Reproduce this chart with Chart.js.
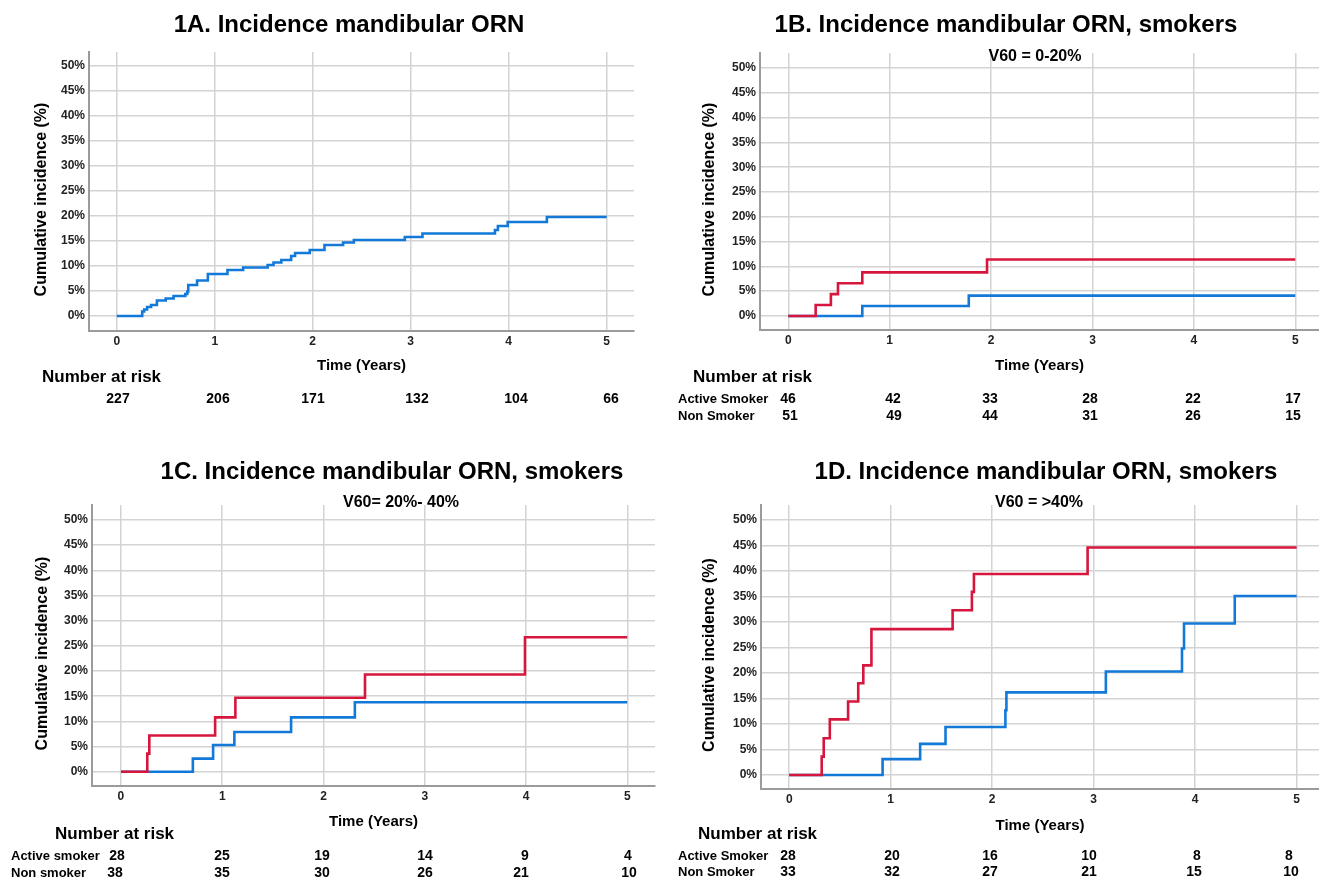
<!DOCTYPE html>
<html>
<head>
<meta charset="utf-8">
<script src="https://cdn.jsdelivr.net/npm/chart.js@4.4.1/dist/chart.umd.min.js"></script>
<style>
  html, body { margin: 0; padding: 0; background: #fff; }
  #wrap { position: relative; width: 1319px; height: 880px; overflow: hidden; }
  canvas { position: absolute; }
</style>
</head>
<body>
<div id="wrap">
  <canvas id="chart-a" width="660" height="440" style="left:0;top:0"></canvas>
  <canvas id="chart-b" width="659" height="440" style="left:660px;top:0"></canvas>
  <canvas id="chart-c" width="660" height="440" style="left:0;top:440px"></canvas>
  <canvas id="chart-d" width="659" height="440" style="left:660px;top:440px"></canvas>
</div>
<script>
// ---- data ----
const yTicks = [0, 5, 10, 15, 20, 25, 30, 35, 40, 45, 50];
const xTicks = [0, 1, 2, 3, 4, 5];

// 1A, all patients
const aTime = [0, 0.26, 0.28, 0.31, 0.35, 0.41, 0.50, 0.58, 0.70, 0.72, 0.73, 0.82, 0.93, 1.13, 1.29, 1.54, 1.60, 1.68, 1.78, 1.82, 1.97, 2.12, 2.31, 2.42, 2.94, 3.12, 3.86, 3.89, 3.99, 4.39, 5.00];
const aInc  = [0, 0.9, 1.3, 1.8, 2.2, 3.1, 3.5, 4.0, 4.4, 4.9, 6.2, 7.1, 8.4, 9.2, 9.7, 10.2, 10.7, 11.2, 12.0, 12.6, 13.2, 14.2, 14.7, 15.2, 15.8, 16.5, 17.2, 18.0, 18.8, 19.8, 19.8];
const aRisk = [227, 206, 171, 132, 104, 66];

// 1B, V60 = 0-20%
const bSmokeTime = [0, 0.27, 0.42, 0.49, 0.73, 1.96, 5.00];
const bSmokeInc  = [0, 2.2, 4.4, 6.6, 8.8, 11.4, 11.4];
const bNonTime = [0, 0.73, 1.78, 5.00];
const bNonInc  = [0, 2.0, 4.1, 4.1];
const bRiskSmoke = [46, 42, 33, 28, 22, 17];
const bRiskNon   = [51, 49, 44, 31, 26, 15];

// 1C, V60 = 20-40%
const cSmokeTime = [0, 0.26, 0.28, 0.93, 1.13, 2.41, 3.99, 5.00];
const cSmokeInc  = [0, 3.6, 7.2, 10.8, 14.7, 19.3, 26.7, 26.7];
const cNonTime = [0, 0.71, 0.91, 1.12, 1.68, 2.31, 5.00];
const cNonInc  = [0, 2.6, 5.3, 7.9, 10.8, 13.8, 13.8];
const cRiskSmoke = [28, 25, 19, 14, 9, 4];
const cRiskNon   = [38, 35, 30, 26, 21, 10];

// 1D, V60 > 40%
const dSmokeTime = [0, 0.32, 0.34, 0.40, 0.58, 0.68, 0.73, 0.81, 1.61, 1.80, 1.82, 2.94, 5.00];
const dSmokeInc  = [0, 3.6, 7.2, 10.9, 14.4, 18.0, 21.5, 28.6, 32.3, 35.9, 39.4, 44.6, 44.6];
const dNonTime = [0, 0.92, 1.29, 1.54, 2.13, 2.14, 3.12, 3.87, 3.89, 4.39, 5.00];
const dNonInc  = [0, 3.1, 6.1, 9.4, 12.7, 16.2, 20.3, 24.8, 29.7, 35.1, 35.1];
const dRiskSmoke = [28, 20, 16, 10, 8, 8];
const dRiskNon   = [33, 32, 27, 21, 15, 10];

// ---- styling ----
const FAM = "'Liberation Sans', Arial, sans-serif";
const BLUE = '#1279d9';
const RED = '#d6163c';
Chart.defaults.font.family = FAM;
Chart.defaults.color = '#111';

function pts(times, vals) {
  return times.map((t, i) => ({x: t, y: vals[i]}));
}

function panelText(cfg) {
  return {
    id: 'panelText',
    afterDraw(chart) {
      const ctx = chart.ctx;
      const area = chart.chartArea;
      ctx.save();
      ctx.fillStyle = '#000';
      ctx.textBaseline = 'middle';
      ctx.textAlign = 'center';
      ctx.font = 'bold 24px ' + FAM;
      ctx.fillText(cfg.title, cfg.titleX, cfg.titleY);
      if (cfg.sub) {
        ctx.font = 'bold 16px ' + FAM;
        ctx.fillText(cfg.sub, cfg.subX, cfg.subY);
      }
      // y axis title, sits a little below the plot centre
      ctx.save();
      ctx.translate(cfg.yTitleX, (area.top + area.bottom) / 2 + 8);
      ctx.rotate(-Math.PI / 2);
      ctx.font = 'bold 16px ' + FAM;
      ctx.fillText('Cumulative incidence (%)', 0, 0);
      ctx.restore();
      // number at risk table
      ctx.textAlign = 'left';
      ctx.font = 'bold 17px ' + FAM;
      ctx.fillText('Number at risk', cfg.headX, cfg.headY);
      cfg.rows.forEach(r => {
        if (r.label) {
          ctx.font = 'bold 13px ' + FAM;
          ctx.textAlign = 'left';
          ctx.fillText(r.label, cfg.labelX, r.y);
        }
        ctx.font = 'bold 14px ' + FAM;
        ctx.textAlign = 'center';
        r.values.forEach((v, i) => ctx.fillText(String(v), r.xs[i], r.y));
      });
      ctx.restore();
    }
  };
}

function makePanel(id, datasets, lay, txt) {
  const canvas = document.getElementById(id);
  const W = canvas.width, H = canvas.height;
  return new Chart(canvas, {
    type: 'line',
    data: {
      datasets: datasets.map(d => ({
        data: d.data,
        borderColor: d.color,
        borderWidth: 2.6,
        stepped: true,
        pointRadius: 0,
        fill: false
      }))
    },
    options: {
      responsive: false,
      animation: false,
      layout: {
        padding: {left: 0, top: lay.top, right: W - lay.right, bottom: 0}
      },
      plugins: {
        legend: {display: false},
        tooltip: {enabled: false}
      },
      scales: {
        x: {
          type: 'linear',
          min: lay.xMin,
          max: lay.xMax,
          afterBuildTicks: s => { s.ticks = xTicks.map(v => ({value: v})); },
          afterFit: s => { s.height = H - lay.bottom; },
          grid: {color: '#d3d3d3', lineWidth: 1.5, drawTicks: false},
          border: {display: true, color: '#9b9b9b', width: 2},
          ticks: {font: {size: 12, weight: 'bold'}, color: '#222', padding: 3},
          title: {
            display: true,
            text: 'Time (Years)',
            font: {size: 15, weight: 'bold'},
            color: '#000',
            padding: {top: 0, bottom: lay.xTitlePad}
          }
        },
        y: {
          type: 'linear',
          min: lay.yMin,
          max: lay.yMax,
          afterBuildTicks: s => { s.ticks = yTicks.map(v => ({value: v})); },
          afterFit: s => { s.width = lay.left; },
          grid: {color: '#d3d3d3', lineWidth: 1.5, drawTicks: false},
          border: {display: true, color: '#9b9b9b', width: 2},
          ticks: {
            font: {size: 12, weight: 'bold'},
            color: '#222',
            padding: 4,
            callback: v => v + '%'
          }
        }
      }
    },
    plugins: [panelText(txt)]
  });
}

makePanel('chart-a',
  [{data: pts(aTime, aInc), color: BLUE}],
  {left: 89, top: 52, right: 634, bottom: 331, xMin: -0.283, xMax: 5.279, yMin: -3.0, yMax: 52.8, xTitlePad: 65},
  {title: '1A. Incidence mandibular ORN', titleX: 349, titleY: 25,
   yTitleX: 42, headX: 42, headY: 377, labelX: 0,
   rows: [{label: null, y: 399, values: aRisk, xs: [118, 218, 313, 417, 516, 611]}]});

makePanel('chart-b',
  [{data: pts(bSmokeTime, bSmokeInc), color: RED}, {data: pts(bNonTime, bNonInc), color: BLUE}],
  {left: 100, top: 53, right: 659, bottom: 330, xMin: -0.279, xMax: 5.234, yMin: -2.83, yMax: 53.03, xTitlePad: 65},
  {title: '1B. Incidence mandibular ORN, smokers', titleX: 346, titleY: 25,
   sub: 'V60 = 0-20%', subX: 375, subY: 57,
   yTitleX: 50, headX: 33, headY: 377, labelX: 18,
   rows: [{label: 'Active Smoker', y: 399, values: bRiskSmoke, xs: [128, 233, 330, 430, 533, 633]},
          {label: 'Non Smoker', y: 416, values: bRiskNon, xs: [130, 234, 330, 430, 533, 633]}]});

makePanel('chart-c',
  [{data: pts(cSmokeTime, cSmokeInc), color: RED}, {data: pts(cNonTime, cNonInc), color: BLUE}],
  {left: 92, top: 65, right: 655, bottom: 346, xMin: -0.286, xMax: 5.274, yMin: -2.84, yMax: 52.98, xTitlePad: 49},
  {title: '1C. Incidence mandibular ORN, smokers', titleX: 392, titleY: 32,
   sub: 'V60= 20%- 40%', subX: 401, subY: 63,
   yTitleX: 43, headX: 55, headY: 394, labelX: 11,
   rows: [{label: 'Active smoker', y: 416, values: cRiskSmoke, xs: [117, 222, 322, 425, 525, 628]},
          {label: 'Non smoker', y: 433, values: cRiskNon, xs: [115, 222, 322, 425, 521, 629]}]});

makePanel('chart-d',
  [{data: pts(dSmokeTime, dSmokeInc), color: RED}, {data: pts(dNonTime, dNonInc), color: BLUE}],
  {left: 101, top: 65, right: 659, bottom: 349, xMin: -0.278, xMax: 5.22, yMin: -2.75, yMax: 52.94, xTitlePad: 45},
  {title: '1D. Incidence mandibular ORN, smokers', titleX: 386, titleY: 32,
   sub: 'V60 = >40%', subX: 379, subY: 63,
   yTitleX: 50, headX: 38, headY: 394, labelX: 18,
   rows: [{label: 'Active Smoker', y: 416, values: dRiskSmoke, xs: [128, 232, 330, 429, 537, 629]},
          {label: 'Non Smoker', y: 432, values: dRiskNon, xs: [128, 232, 330, 429, 534, 631]}]});
</script>
</body>
</html>
